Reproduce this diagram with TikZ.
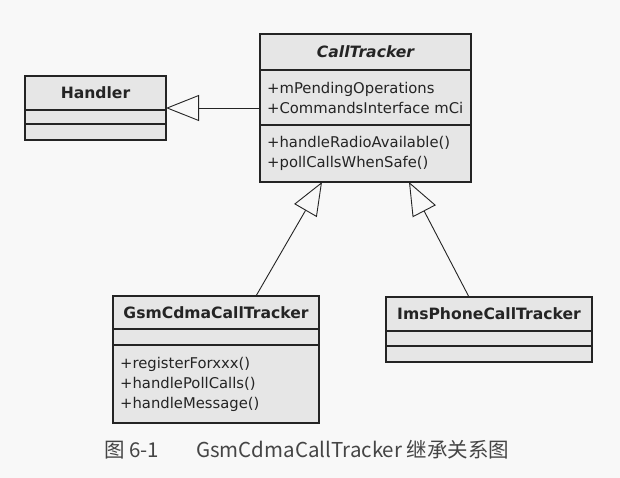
\documentclass[tikz,border=0pt]{standalone}
\usepackage{fontspec}
\setmainfont{DejaVu Sans}
\newfontfamily\cjkfont{Noto Sans CJK SC}
\usetikzlibrary{arrows.meta}
\definecolor{boxgray}{HTML}{E6E6E6}
\definecolor{pagegray}{HTML}{F8F8F8}
\definecolor{inkgray}{HTML}{242424}
\tikzset{>={Triangle[open,length=33pt,width=26pt]}}
\tikzset{
  umlbox/.style={draw=inkgray,fill=boxgray,line width=1.1pt,inner sep=0pt,outer sep=0pt},
  sepline/.style={draw=inkgray,line width=1.1pt},
  inherit/.style={->,draw=inkgray,line width=0.9pt},
  classname/.style={font=\fontsize{15.6}{18}\selectfont\bfseries,text=inkgray,inner sep=0pt},
  members/.style={font=\fontsize{14.8}{20}\selectfont,text=inkgray,align=left,anchor=west,inner sep=0pt},
}

\begin{document}
\begin{tikzpicture}[x=1pt,y=-1pt]
\fill[pagegray] (0,0) rectangle (620,478);
% class boxes
\node (handler) [umlbox,minimum width=141pt,minimum height=64pt] at (95.5,108) {};
\node (calltracker) [umlbox,minimum width=211pt,minimum height=148pt] at (365.5,108) {};
\node (gsm) [umlbox,minimum width=206pt,minimum height=127pt] at (216,359.5) {};
\node (ims) [umlbox,minimum width=206pt,minimum height=65pt] at (489,329.5) {};
% compartments
\draw[sepline] ([yshift=-34pt]handler.north west) -- ([yshift=-34pt]handler.north east);
\draw[sepline] ([yshift=-48pt]handler.north west) -- ([yshift=-48pt]handler.north east);
\draw[sepline] ([yshift=-36pt]calltracker.north west) -- ([yshift=-36pt]calltracker.north east);
\draw[sepline] ([yshift=-91pt]calltracker.north west) -- ([yshift=-91pt]calltracker.north east);
\draw[sepline] ([yshift=-33pt]gsm.north west) -- ([yshift=-33pt]gsm.north east);
\draw[sepline] ([yshift=-49pt]gsm.north west) -- ([yshift=-49pt]gsm.north east);
\draw[sepline] ([yshift=-34pt]ims.north west) -- ([yshift=-34pt]ims.north east);
\draw[sepline] ([yshift=-49pt]ims.north west) -- ([yshift=-49pt]ims.north east);
% names and members
\node (handlername) [classname] at (95.5,93) {Handler};
\node (calltrackername) [classname,font=\fontsize{15.6}{18}\selectfont\bfseries\itshape] at (365.5,52) {CallTracker};
\node (gsmname) [classname] at (216,312.5) {GsmCdmaCallTracker};
\node (imsname) [classname] at (489,314) {ImsPhoneCallTracker};
\node (calltrackerattr) [members] at (267,97.5) {+mPendingOperations\\+CommandsInterface mCi};
\node (calltrackerops) [members] at (267,153.5) {+handleRadioAvailable()\\+pollCallsWhenSafe()};
\node (gsmops) [members] at (120,384) {+registerForxxx()\\+handlePollCalls()\\+handleMessage()};
% generalization
\draw[inherit] (calltracker.west) -- (handler.east);
\draw[inherit] ([xshift=40pt]gsm.north) -- ([xshift=-43.5pt]calltracker.south);
\draw[inherit] ([xshift=-20pt]ims.north) -- ([xshift=43.5pt]calltracker.south);
% caption
\node (caption) [anchor=west,inner sep=0pt,text=inkgray!85,font=\cjkfont\fontsize{20.5}{22}\selectfont] at (104,450) {图 6-1\hspace{37pt}GsmCdmaCallTracker 继承关系图};
\end{tikzpicture}
\end{document}
